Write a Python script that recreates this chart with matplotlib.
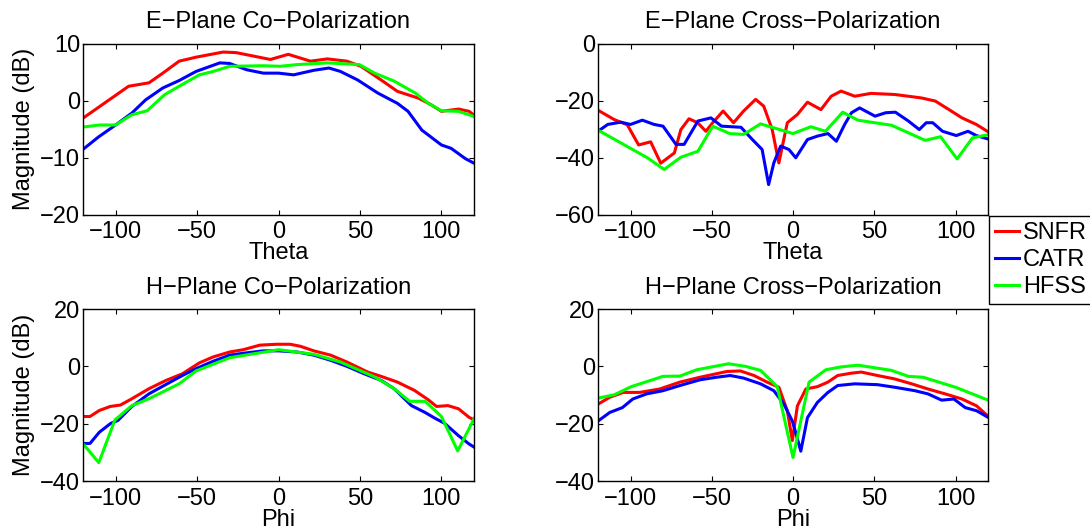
import matplotlib.pyplot as plt

plt.rcParams['font.family'] = ['Liberation Sans', 'DejaVu Sans']

# E-plane co-polarization (theta, dB)
eco_snfr_x = [-121, -92, -79.5, -71, -61, -50.6, -34, -26, -15.5, -5, 6, 19.6, 30, 42, 50.6, 63, 73, 86, 94, 100, 110.5, 117, 121]
eco_snfr_y = [-3.3, 2.5, 3.1, 4.8, 6.9, 7.6, 8.5, 8.4, 7.8, 7.2, 8.1, 6.9, 7.3, 6.9, 6.0, 3.6, 1.6, 0.4, -0.8, -1.9, -1.5, -1.9, -2.8]
eco_catr_x = [-121, -110.5, -100, -90, -81.6, -71, -61, -50.6, -36, -30, -19.6, -9.3, 0, 9.3, 21.7, 31, 38, 48.6, 61, 73, 79.5, 88, 100, 106, 114.7, 120]
eco_catr_y = [-8.8, -6.4, -4.3, -2.2, 0.1, 2.2, 3.5, 5.1, 6.6, 6.5, 5.4, 4.8, 4.8, 4.5, 5.3, 5.7, 5.1, 3.6, 1.3, -0.5, -1.9, -5.2, -7.8, -8.4, -10.2, -11]
eco_hfss_x = [-121, -110, -100, -90, -80.6, -70, -61, -48.6, -40, -30, -9.3, 1, 11.4, 30, 49.6, 59, 71, 84, 92, 100, 110.5, 121]
eco_hfss_y = [-4.7, -4.3, -4.3, -2.5, -1.8, 1.0, 2.5, 4.5, 5.1, 6.0, 6.1, 6.0, 6.3, 6.6, 6.3, 4.8, 3.4, 1.3, -0.5, -1.8, -1.9, -2.9]

# E-plane cross-polarization
ecx_snfr_x = [-120, -110, -102, -95, -87.6, -81.4, -73, -69, -64, -58.7, -53.6, -49.4, -43, -36.6, -30.4, -23, -18, -12.8, -8.7, -3.5, 2.7, 8.9, 17.2, 23.5, 29.6, 38, 48, 62.8, 79, 87.6, 96, 104, 112.8, 121]
ecx_snfr_y = [-23.4, -26.7, -28.5, -35.6, -34.5, -42, -38.4, -30.2, -26.4, -27.8, -30.8, -27.8, -23.7, -27.8, -23.7, -19.6, -22, -30.2, -41.9, -27.8, -24.9, -20.6, -23.2, -18.5, -16.7, -18.5, -17.5, -17.9, -19.1, -20.2, -23.2, -26.1, -28.4, -31.3]
ecx_catr_x = [-120, -114, -106, -100, -92.7, -85.5, -80, -72, -67, -58.5, -50.5, -44, -32, -25, -19, -15, -11.8, -7.6, -2.5, 1.7, 8.9, 15, 21.5, 26.7, 31.8, 36, 41, 50.5, 57, 63, 71, 77.7, 82, 86, 92, 100.5, 107.7, 112.8, 120]
ecx_catr_y = [-30.8, -28.4, -27.6, -28.4, -26.9, -28.4, -29.0, -35.4, -35.4, -27.2, -26.1, -29.0, -29.4, -33.7, -37.2, -49.5, -41.9, -36.0, -37.2, -40.1, -33.7, -32.5, -31.6, -34.3, -28.4, -24.3, -22.6, -25.5, -24.3, -24.1, -27.2, -30.2, -27.8, -27.8, -30.8, -32.3, -30.8, -32.3, -33.5]
ecx_hfss_x = [-120, -89.6, -79.3, -69, -58.5, -49.4, -39, -30.4, -20, 0, 11, 20, 30.6, 39.9, 60.7, 81.4, 90.8, 101, 110.5, 121]
ecx_hfss_y = [-30.4, -40.1, -44.2, -39.9, -37.8, -29.0, -31.6, -31.9, -28.2, -31.6, -29.2, -30.8, -24.1, -26.9, -28.7, -34.0, -32.7, -40.5, -33.1, -31.9]

# H-plane co-polarization (phi, dB)
hco_snfr_x = [-121, -115.7, -110, -103.3, -97, -90, -79.5, -69, -59, -48.6, -40, -30, -21.7, -11.4, -1, 7.2, 13.4, 21.7, 32, 42, 54.8, 63, 73, 83.5, 92, 97, 104, 110.5, 117, 121]
hco_snfr_y = [-17.5, -17.5, -15.4, -14.0, -13.5, -11.3, -7.8, -4.9, -2.6, 1.2, 3.3, 5.0, 5.8, 7.4, 7.7, 7.7, 7.0, 5.4, 3.9, 1.5, -2.0, -3.5, -5.5, -8.4, -11.7, -14.0, -13.7, -14.8, -17.8, -18.9]
hco_catr_x = [-121, -115.7, -110, -103, -98.6, -90, -79.5, -69, -59, -50.6, -40, -30, -19.6, -9.3, 0, 11.4, 21.7, 32, 42, 52.6, 63, 71, 81.6, 90, 96, 102, 110.5, 117, 121]
hco_catr_y = [-26.9, -26.9, -23.0, -19.9, -18.9, -14.0, -9.6, -6.3, -3.2, -0.8, 1.8, 3.9, 4.7, 5.4, 5.4, 5.0, 3.9, 2.1, 0.0, -2.6, -4.9, -7.8, -13.7, -16.1, -18.1, -19.9, -24.2, -27.1, -28.5]
hco_hfss_x = [-121, -110.3, -100.4, -90, -79.5, -61, -50.6, -30, 0, 21.7, 38, 59, 71, 80.5, 90, 100, 110, 121]
hco_hfss_y = [-26.3, -33.6, -18.7, -13.7, -11.3, -6.1, -1.6, 3.0, 5.8, 4.2, 1.5, -3.7, -7.8, -12.2, -12.2, -17.5, -29.5, -17.2]

# H-plane cross-polarization
hcx_snfr_x = [-120, -112.8, -104.5, -94.4, -82, -69.6, -57.2, -40.7, -32.4, -24, -16, -8.7, -3.5, -0.4, 2.7, 7.9, 15, 21.5, 27.5, 35.7, 42, 52, 62.6, 73, 83, 93.6, 104, 113, 121]
hcx_snfr_y = [-13.2, -10.8, -9.1, -9.1, -7.9, -5.5, -3.8, -1.8, -1.6, -3.2, -5.5, -7.3, -15.5, -25.9, -13.8, -7.9, -7.1, -5.5, -3.2, -2.4, -2.0, -3.2, -4.4, -6.1, -7.9, -9.6, -11.4, -13.8, -17.9]
hcx_catr_x = [-120, -112.8, -105, -98.6, -90, -80, -69.6, -57.2, -47, -38.6, -30.4, -20, -11.8, -5.6, -0.4, 1.7, 4.8, 8.9, 15, 21.5, 27.5, 38, 52, 62.6, 75, 83, 91.5, 99, 106, 113, 121]
hcx_catr_y = [-19.1, -16.1, -14.4, -11.4, -9.6, -8.5, -6.7, -4.7, -3.8, -3.2, -4.1, -6.1, -8.5, -13.2, -19.1, -23.2, -29.6, -17.9, -12.6, -9.1, -6.7, -6.1, -6.4, -7.3, -8.5, -9.6, -11.8, -11.4, -14.4, -15.5, -18.1]
hcx_hfss_x = [-120, -109.9, -99.6, -80, -69.6, -59.3, -39.7, -29.3, -20, -9.7, 0, 9.9, 20.2, 29.5, 40, 60.5, 71, 80, 100, 121]
hcx_hfss_y = [-11.1, -9.9, -7.1, -3.5, -3.4, -1.2, 0.9, 0.0, -1.4, -7.1, -31.8, -5.5, -1.2, -0.2, 0.4, -1.4, -3.5, -3.8, -7.3, -12.0]

titles = ['E\u2212Plane Co\u2212Polarization', 'E\u2212Plane Cross\u2212Polarization',
          'H\u2212Plane Co\u2212Polarization', 'H\u2212Plane Cross\u2212Polarization']
xlabels = ['Theta', 'Theta', 'Phi', 'Phi']
yticks = [[-20, -10, 0, 10], [-60, -40, -20, 0], [-40, -20, 0, 20], [-40, -20, 0, 20]]
labels = ['SNFR', 'CATR', 'HFSS']
colors = ['#ff0000', '#0000ff', '#00ff00']

panels = [
    [(eco_snfr_x, eco_snfr_y), (eco_catr_x, eco_catr_y), (eco_hfss_x, eco_hfss_y)],
    [(ecx_snfr_x, ecx_snfr_y), (ecx_catr_x, ecx_catr_y), (ecx_hfss_x, ecx_hfss_y)],
    [(hco_snfr_x, hco_snfr_y), (hco_catr_x, hco_catr_y), (hco_hfss_x, hco_hfss_y)],
    [(hcx_snfr_x, hcx_snfr_y), (hcx_catr_x, hcx_catr_y), (hcx_hfss_x, hcx_hfss_y)],
]

W, H = 1090, 529
fig = plt.figure(figsize=(W / 100, H / 100), dpi=100)

# axes boxes in pixels: left, top, right, bottom
boxes = [(83, 43.5, 474, 214.5), (598, 43.5, 988, 214.5),
         (83, 309, 474, 481), (598, 309, 988, 481)]

fs = 17
for i, (l, t, r, b) in enumerate(boxes):
    ax = fig.add_axes([l / W, 1 - b / H, (r - l) / W, (b - t) / H])
    for (x, y), c, lab in zip(panels[i], colors, labels):
        ax.plot(x, y, color=c, linewidth=2.2, label=lab)
    ax.set_xlim(-120, 120)
    ax.set_ylim(yticks[i][0], yticks[i][-1])
    ax.set_xticks([-100, -50, 0, 50, 100])
    ax.set_yticks(yticks[i])
    ax.tick_params(direction='in', top=True, right=True, length=3.5, width=0.8,
                   labelsize=fs, pad=2)
    ax.tick_params(axis='x', pad=5)
    for s in ax.spines.values():
        s.set_linewidth(1.0)
    ax.set_title(titles[i], fontsize=fs, pad=11)
    ax.set_xlabel(xlabels[i], fontsize=fs, labelpad=-1)
    if i % 2 == 0:
        ax.set_ylabel('Magnitude (dB)', fontsize=fs, labelpad=4)
    if i == 0:
        handles, hl = ax.get_legend_handles_labels()

fig.legend(handles, hl, loc='upper left', bbox_to_anchor=(989 / W, 1 - 216 / H),
           fontsize=fs, frameon=True, fancybox=False, edgecolor='black', framealpha=1,
           borderaxespad=0, borderpad=0.25, handlelength=1.0, handletextpad=0.2,
           labelspacing=0.22)

fig.savefig('out.png', dpi=100)
